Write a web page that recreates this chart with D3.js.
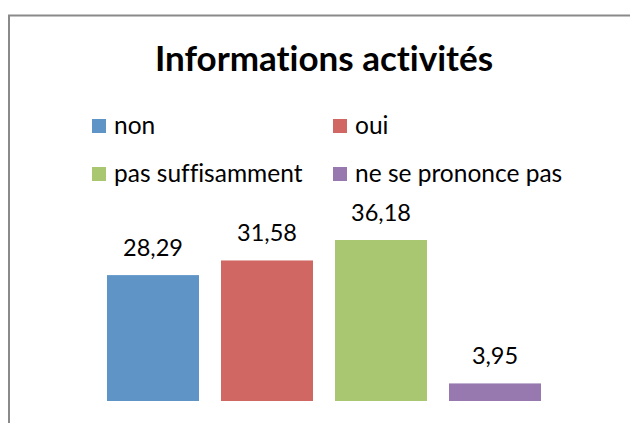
<!DOCTYPE html>
<html lang="fr">
	<head>
		<meta charset="utf-8">
		<title>Informations activités</title>
		<style>
			body { margin: 0; background: #fff; }
			#graph text { font-family: Lato, "Open Sans", sans-serif; fill: #000; font-variant-ligatures: none; }
		</style>
	</head>
	<body>
		<svg id="graph" width="630" height="423"></svg>

		<script src="https://d3js.org/d3.v7.min.js"></script>
		<script>
			"use strict";

			var categories = ["non", "oui", "pas suffisamment", "ne se prononce pas"];
			var values = [28.29, 31.58, 36.18, 3.95];
			var colors = ["#5f94c7", "#d06763", "#a9c671", "#9779b0"];
			var title = "Informations activités";

			var svg = d3.select("#graph");

			// cadre gris (coupé à droite et en bas)
			svg.append("rect")
				.attr("x", 9).attr("y", 15.5)
				.attr("width", 640).attr("height", 430)
				.attr("fill", "none")
				.attr("stroke", "#8a8a8a")
				.attr("stroke-width", 2);

			svg.append("text")
				.attr("x", 324).attr("y", 71)
				.attr("text-anchor", "middle")
				.style("font-size", "35px")
				.style("font-weight", "bold")
				.text(title);

			// légende sur deux colonnes
			var legend = svg.selectAll("g.leg")
				.data(categories)
				.enter()
				.append("g")
				.attr("class", "leg")
				.attr("transform", function(d, i){
					return "translate(" + (i % 2 === 0 ? 92 : 333) + "," + (i < 2 ? 119 : 167) + ")";
				});
			legend.append("rect")
				.attr("width", 14).attr("height", 14)
				.attr("fill", function(d, i){ return colors[i]; });
			legend.append("text")
				.attr("x", 22).attr("y", 15)
				.style("font-size", "24.5px")
				.text(function(d){ return d; });

			var x = d3.scaleBand()
				.domain(categories)
				.range([96, 552])
				.paddingInner(0.193)
				.paddingOuter(0.0965);
			var y = d3.scaleLinear()
				.domain([0, 40])
				.range([401, 223]);

			svg.selectAll("rect.bar")
				.data(values)
				.enter()
				.append("rect")
				.attr("class", "bar")
				.attr("x", function(d, i){ return x(categories[i]); })
				.attr("y", function(d){ return y(d); })
				.attr("width", x.bandwidth())
				.attr("height", function(d){ return y(0) - y(d); })
				.attr("fill", function(d, i){ return colors[i]; });

			svg.selectAll("text.val")
				.data(values)
				.enter()
				.append("text")
				.attr("class", "val")
				.attr("x", function(d, i){ return x(categories[i]) + x.bandwidth() / 2; })
				.attr("y", function(d){ return y(d) - 19; })
				.attr("text-anchor", "middle")
				.style("font-size", "23.5px")
				.text(function(d){ return d3.format(".2f")(d).replace(".", ","); });
		</script>
	</body>
</html>
